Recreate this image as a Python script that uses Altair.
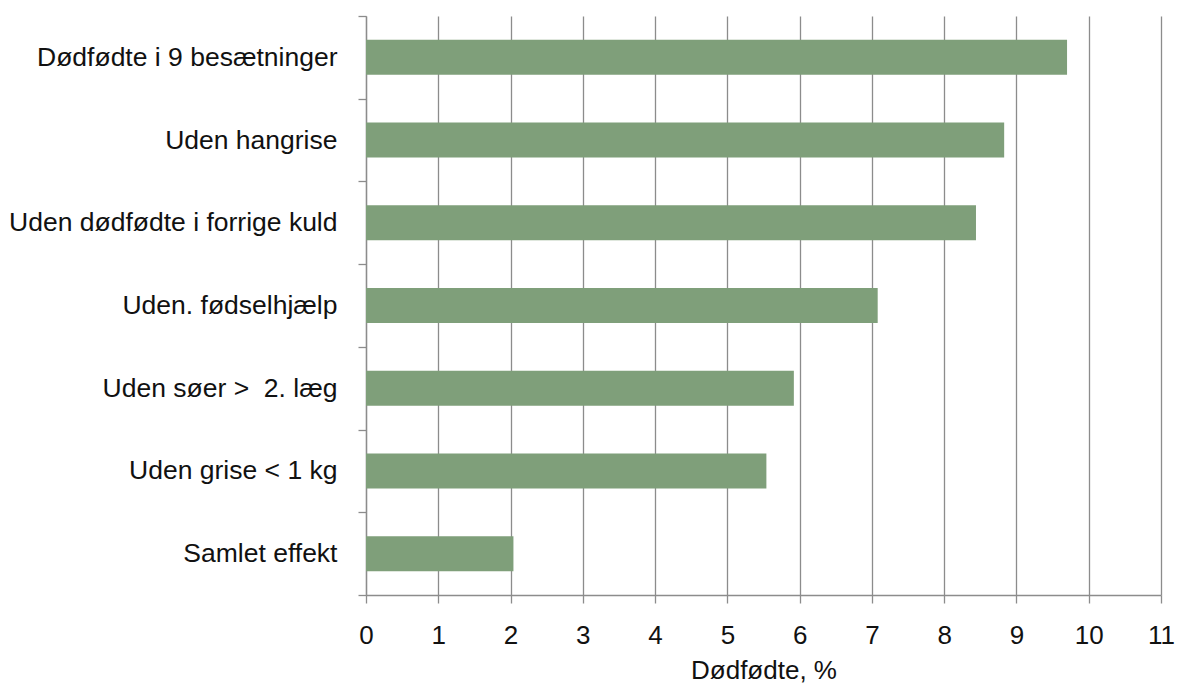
import altair as alt
import pandas as pd

categories = [
    "Dødfødte i 9 besætninger",
    "Uden hangrise",
    "Uden dødfødte i forrige kuld",
    "Uden. fødselhjælp",
    "Uden søer > \u00a02. læg",
    "Uden grise < 1 kg",
    "Samlet effekt",
]
values = [9.70, 8.83, 8.44, 7.08, 5.92, 5.54, 2.04]
x_ticks = list(range(0, 12))

df = pd.DataFrame({"kategori": categories, "vaerdi": values})

gray = "#8c8c8c"
font = "Liberation Sans"

chart = alt.Chart(df).mark_bar(color="#7f9f7a", size=35).encode(
    x=alt.X(
        "vaerdi:Q",
        title="Dødfødte, %",
        scale=alt.Scale(domain=[0, 11], nice=False, zero=True),
        axis=alt.Axis(
            values=x_ticks,
            format="d",
            grid=True,
            gridColor=gray,
            gridWidth=1.3,
            domainColor=gray,
            domainWidth=1.3,
            tickColor=gray,
            tickWidth=1.3,
            tickSize=8,
            labelFlush=False,
            labelFont=font,
            labelFontSize=26,
            labelColor="#111111",
            labelPadding=19,
            titleFont=font,
            titleFontSize=26,
            titleFontWeight="normal",
            titleColor="#111111",
            titlePadding=9,
        ),
    ),
    y=alt.Y(
        "kategori:N",
        sort=categories,
        title=None,
        scale=alt.Scale(paddingInner=0, paddingOuter=0),
        axis=alt.Axis(
            grid=False,
            domainColor=gray,
            domainWidth=1.3,
            tickColor=gray,
            tickWidth=1.3,
            tickSize=8,
            tickBand="extent",
            labelFont=font,
            labelFontSize=26.5,
            labelColor="#111111",
            labelPadding=21,
            labelLimit=500,
        ),
    ),
).properties(
    width=795,
    height=579,
    autosize=alt.AutoSizeParams(type="none"),
    padding={"left": 358, "top": 8, "right": 14, "bottom": 92},
).configure_view(stroke=None)

chart.save("out.html", embed_options={"renderer": "svg", "actions": False})
